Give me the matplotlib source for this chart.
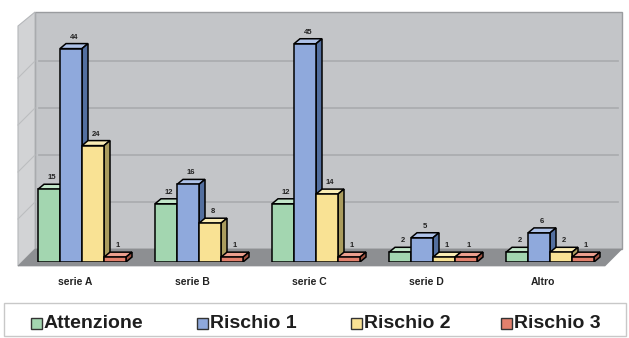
import matplotlib.pyplot as plt
from matplotlib.patches import Polygon, Rectangle
import numpy as np

plt.rcParams['font.family'] = ['Liberation Sans', 'DejaVu Sans']

categories = ['serie A', 'serie B', 'serie C', 'serie D', 'Altro']
series_names = ['Attenzione', 'Rischio 1', 'Rischio 2', 'Rischio 3']
attenzione = [15, 12, 12, 2, 2]
rischio1 = [44, 16, 45, 5, 6]
rischio2 = [24, 8, 14, 1, 2]
rischio3 = [1, 1, 1, 1, 1]

front = ['#a3d6b0', '#8fa9dc', '#f9e294', '#e2806c']
top = ['#c2e6c9', '#aec2e8', '#fbedb5', '#ec9f8e']
side = ['#6e9c7a', '#536f9f', '#aa9c5e', '#9e5343']

W, H = 629, 338
fig = plt.figure(figsize=(W / 100, H / 100), dpi=100)
fig.patch.set_facecolor('white')

# axes: category index on x, value on y (front plane of the bars)
px0, py0, pxu, pyu = 82, 262, 117, 4.85
ax = fig.add_axes([(px0 - 0.5 * pxu) / W, (H - py0) / H, 5 * pxu / W, 50 * pyu / H])
ax.set_xlim(-0.5, 4.5)
ax.set_ylim(0, 50)
ax.axis('off')

def px(x):
    return (x - px0) / pxu

def py(y):
    return (py0 - y) / pyu

# walls and floor
back_l, back_r = px(35), px(622)
front_l, front_r = px(18), px(605)
floor_b, floor_f = py(249), py(266)
wall_top = py(12)
left_top = py(26)

ax.add_patch(Polygon([(back_l, floor_b), (back_r, floor_b), (back_r, wall_top), (back_l, wall_top)],
                     closed=True, fc='#c3c5c8', ec='#9a9c9f', lw=1.0, clip_on=False, zorder=0))
ax.add_patch(Polygon([(front_l, floor_f), (back_l, floor_b), (back_l, wall_top), (front_l, left_top)],
                     closed=True, fc='#d2d3d5', ec='#b5b7ba', lw=0.8, clip_on=False, zorder=0))
ax.add_patch(Polygon([(front_l, floor_f), (front_r, floor_f), (back_r, floor_b), (back_l, floor_b)],
                     closed=True, fc='#8d8f92', ec='#8d8f92', lw=0.5, clip_on=False, zorder=0.5))

# gridlines on the back wall, every 10 units
wall_scale = 47 / pyu / 10
for g in [10, 20, 30, 40]:
    yy = floor_b + g * wall_scale
    ax.plot([back_l + 0.03, back_r - 0.03], [yy, yy], color='#a9abae', lw=1.2, zorder=0.2, clip_on=False)
    ax.plot([front_l, back_l], [yy - (floor_b - floor_f), yy], color='#bcbec0', lw=0.8, zorder=0.2, clip_on=False)

# 3D-looking bars
values = [attenzione, rischio1, rischio2, rischio3]
bw = 22 / pxu
ddx, ddy = 6 / pxu, 5 / pyu
x = np.arange(len(categories))
for k, vals in enumerate(values):
    xs = x - 2 * bw + k * bw
    bars = ax.bar(xs, vals, width=bw, align='edge', color=front[k], edgecolor='black',
                  linewidth=1.1, zorder=2 + k * 0.1)
    for b, v in zip(bars, vals):
        x0 = b.get_x()
        ax.add_patch(Polygon([(x0, v), (x0 + bw, v), (x0 + bw + ddx, v + ddy), (x0 + ddx, v + ddy)],
                             closed=True, fc=top[k], ec='black', lw=1.1, zorder=1.9 + k * 0.1))
        ax.add_patch(Polygon([(x0 + bw, 0), (x0 + bw + ddx, ddy), (x0 + bw + ddx, v + ddy), (x0 + bw, v)],
                             closed=True, fc=side[k], ec='black', lw=1.1, zorder=1.9 + k * 0.1))
        ax.text(x0 + bw / 2 + ddx / 2, v + ddy + 0.6, str(v), ha='center', va='bottom',
                fontsize=5.5, fontweight='bold', color='#222222', zorder=5)

for i, c in enumerate(categories):
    ax.text(i - 0.06, py(282), c, ha='center', va='center', fontsize=7.5,
            fontweight='bold', color='#222222', clip_on=False)

# legend strip
fig.add_artist(Rectangle((4 / W, 2 / H), 622 / W, (H - 305) / H, transform=fig.transFigure,
                         fc='white', ec='#c8c8c8', lw=1.0))
leg_x = [31, 197, 351, 501]
for k, name in enumerate(series_names):
    fig.add_artist(Rectangle((leg_x[k] / W, (H - 329) / H), 11 / W, 11 / H, transform=fig.transFigure,
                             fc=front[k], ec='#333333', lw=1.0))
    fig.text((leg_x[k] + 13) / W, (H - 323) / H, name, ha='left', va='center',
             fontsize=14, fontweight='bold', color='#1e1e1e')

fig.savefig('out.png', dpi=100)
